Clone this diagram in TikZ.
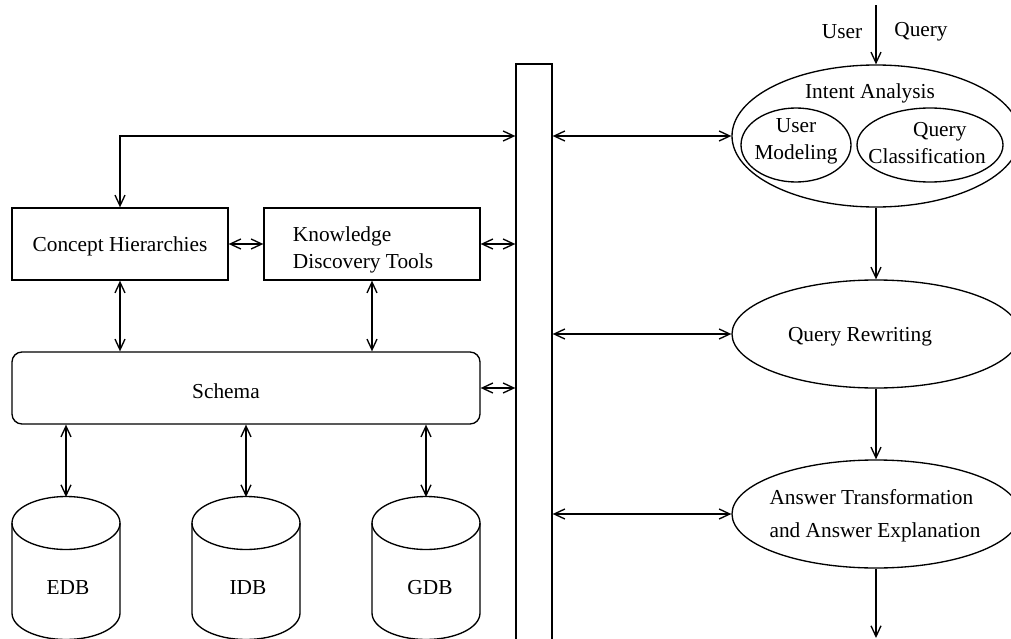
\documentclass[tikz,border=0pt]{standalone}
\usepackage{fontspec}
\setmainfont{Liberation Serif}
\usetikzlibrary{arrows.meta,shapes.geometric}
\begin{document}
\begin{tikzpicture}[x=0.75pt,y=-0.75pt,
  line width=1pt,
  every node/.style={font=\fontsize{16}{20}\selectfont},
  txt/.style={inner sep=0pt},
  box/.style={draw,rectangle,inner sep=0pt,minimum width=162pt,minimum height=54pt},
  oval/.style={draw,ellipse,inner sep=0pt},
  arr/.style={-{Straight Barb[length=8pt,width=7.5pt]}},
  darr/.style={{Straight Barb[length=8pt,width=7.5pt]}-{Straight Barb[length=8pt,width=7.5pt]}}]
\useasboundingbox (0,0) rectangle (1011,639);
\clip (0,0) rectangle (1011,639);

% left boxes
\node[box] (ch) at (120,244) {};
\node[txt] (chtxt) at (120,246) {Concept Hierarchies};
\node[box] (kdt) at (372,244) {};
\node[txt,align=left] (kdttxt) at (363,250) {Knowledge\\Discovery Tools};
\node[box,rounded corners=7.5pt,minimum width=351pt] (schema) at (246,388) {};
\node[txt] (schematxt) at (226,391) {Schema};

% vertical bar
\node[draw,rectangle,inner sep=0pt,minimum width=27pt,minimum height=477pt] (bar) at (534,382) {};

% databases
\foreach \n/\cx/\lab/\lx in {edb/66/EDB/68,idb/246/IDB/248,gdb/426/GDB/430}{
  \draw (\cx-54,523) -- (\cx-54,613)
        arc[start angle=180,end angle=360,x radius=40.5pt,y radius=19.875pt]
        -- (\cx+54,523);
  \draw (\cx,523) ellipse[x radius=40.5pt,y radius=19.875pt];
  \coordinate (\n top) at (\cx,497);
  \node[txt] (\n txt) at (\lx,588) {\lab};
}

% right ellipses
\node[oval,minimum width=216pt,minimum height=106.5pt] (intent) at (876,136) {};
\node[txt] (intenttxt) at (870,93) {Intent Analysis};
\node[oval,minimum width=82.5pt,minimum height=55.5pt] (um) at (796,145) {};
\node[txt,align=center] (umtxt) at (796,141) {User\\Modeling};
\node[oval,minimum width=109.5pt,minimum height=55.5pt] (qc) at (930,145) {};
\node[txt,align=center] (qctxt) at (927,143) {\hspace*{1.2em}Query\\Classification};
\node[oval,minimum width=216pt,minimum height=81pt] (qr) at (876,334) {};
\node[txt] (qrtxt) at (860,337) {Query Rewriting};
\node[oval,minimum width=216pt,minimum height=81pt] (ans) at (876,514) {};
\node[txt,align=left,font=\fontsize{16}{25}\selectfont] (anstxt) at (875,516) {Answer Transformation\\and Answer Explanation};

% input / output
\coordinate (in) at (876,5);
\coordinate (out) at (876,638);
\node[txt] (userlbl) at (842,32) {User};
\node[txt] (querylbl) at (921,32) {Query};

% connectors
\draw[arr] (in) -- (intent.north);
\draw[arr] (intent.south) -- (qr.north);
\draw[arr] (qr.south) -- (ans.north);
\draw[arr] (ans.south) -- (out);

\draw[darr] (ch.north) |- (bar.west |- intent.west);
\draw[darr] (bar.east |- intent.west) -- (intent.west);
\draw[darr] (bar.east |- qr.west) -- (qr.west);
\draw[darr] (bar.east |- ans.west) -- (ans.west);

\draw[darr] (ch.east) -- (kdt.west);
\draw[darr] (kdt.east) -- (bar.west |- kdt.east);
\draw[darr] (schema.east) -- (bar.west |- schema.east);
\draw[darr] (ch.south) -- (ch.south |- schema.north);
\draw[darr] (kdt.south) -- (kdt.south |- schema.north);

\draw[darr] (schema.south -| edbtop) -- (edbtop);
\draw[darr] (schema.south -| idbtop) -- (idbtop);
\draw[darr] (schema.south -| gdbtop) -- (gdbtop);
\end{tikzpicture}
\end{document}
